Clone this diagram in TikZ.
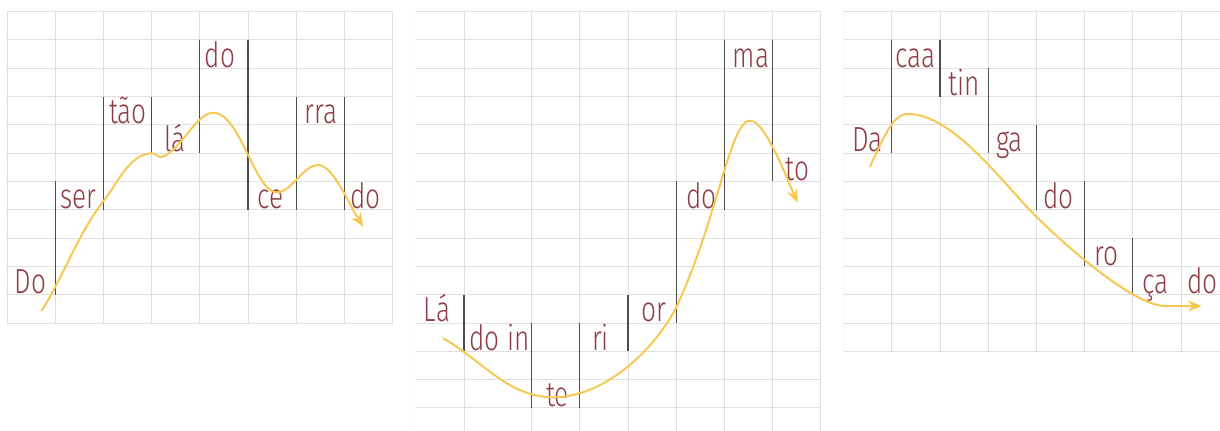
\documentclass[tikz,border=0pt]{standalone}
\usepackage{fontspec}
\usepackage{tikz}
\usetikzlibrary{arrows.meta}
\usepackage{xcolor}
\newfontfamily\sylfont[FakeStretch=0.75]{Fira Sans Light}
\definecolor{sylred}{RGB}{142,60,70}
\definecolor{melodyyellow}{RGB}{247,200,80}

\begin{document}
\begin{tikzpicture}[x=0.025cm,y=0.025cm,>={Stealth[length=3.4mm,width=2.8mm]},line cap=round,
  gridline/.style={gray!25,line width=0.6pt},
  divider/.style={black!70,line width=0.9pt,line cap=butt},
  melody/.style={melodyyellow,line width=1.4pt,->},
  syl/.style={anchor=base west,inner sep=0pt,text=sylred,font=\sylfont\fontsize{24.8pt}{26pt}\selectfont}]
\useasboundingbox (0,0) rectangle (1220,431);
% Do ser-tao la do ce-rra-do
\begin{scope}[shift={(0.175cm,10.4825cm)},x=1.205cm,y=0.7075cm]
\draw[gridline] (0,-11) grid[step=1] (8,0);
\draw[divider] (1,-6) -- (1,-10);
\draw[divider] (2,-3) -- (2,-7);
\draw[divider] (3,-3) -- (3,-5);
\draw[divider] (4,-1) -- (4,-5);
\draw[divider] (5,-1) -- (5,-7);
\draw[divider] (6,-3) -- (6,-7);
\draw[divider] (7,-3) -- (7,-7);
\node[syl] (a1) at (0.16,-9.96) {Do};
\node[syl] (a2) at (1.10,-6.96) {ser};
\node[syl] (a3) at (2.11,-3.96) {tão};
\node[syl] (a4) at (3.26,-4.96) {lá};
\node[syl] (a5) at (4.10,-1.96) {do};
\node[syl] (a6) at (5.20,-6.96) {ce};
\node[syl] (a7) at (6.17,-3.96) {rra};
\node[syl] (a8) at (7.12,-6.96) {do};
\end{scope}
\draw[melody] (41.7,120.3) .. controls (64.2,156.3) and (78.2,197.6) .. (104.3,231)
  .. controls (118,248.6) and (130,277.7) .. (152.3,277.7)
  .. controls (156,277.7) and (158.1,273) .. (161.7,274)
  .. controls (179.7,279) and (196.3,318.3) .. (213.3,318.3)
  .. controls (240,318.3) and (255,238.7) .. (276.7,238.7)
  .. controls (292,238.7) and (303,266) .. (318.3,266)
  .. controls (333,266) and (350,225) .. (363.3,204.3);
% La do in-te-ri-or do ma-to
\begin{scope}[shift={(10.3925cm,10.4825cm)},x=1.205cm,y=0.7075cm]
\begin{scope}
\clip (0,-14.82) rectangle (8.4,0);
\draw[gridline] (0,-15) grid[xstep=10,ystep=1] (8.4,0);
\draw[gridline] (1,-15) -- (1,0);
\draw[gridline,shift={(2.4,0)}] (0,-15) grid[step=1] (6,0);
\end{scope}
\draw[divider] (1,-10) -- (1,-12);
\draw[divider] (2.4,-11) -- (2.4,-14);
\draw[divider] (3.4,-11) -- (3.4,-14);
\draw[divider] (4.4,-10) -- (4.4,-12);
\draw[divider] (5.4,-6) -- (5.4,-11);
\draw[divider] (6.4,-1) -- (6.4,-7);
\draw[divider] (7.4,-1) -- (7.4,-6);
\node[syl] (b1) at (0.16,-10.96) {Lá};
\node[syl] (b2) at (1.11,-11.96) {do in};
\node[syl] (b3) at (2.70,-13.96) {te};
\node[syl] (b4) at (3.65,-11.96) {ri};
\node[syl] (b5) at (4.67,-10.96) {or};
\node[syl] (b6) at (5.61,-6.96) {do};
\node[syl] (b7) at (6.57,-1.96) {ma};
\node[syl] (b8) at (7.67,-5.96) {to};
\end{scope}
\draw[melody] (443.3,92.7) .. controls (482.3,70.2) and (508.3,33.7) .. (553.3,33.7)
  .. controls (603.3,33.7) and (652.5,78.9) .. (676,123)
  .. controls (718.3,213.6) and (730,310.3) .. (750,310.3)
  .. controls (765,310.3) and (785.5,255.7) .. (797.7,228.3);
% Da caa-tin-ga do ro-ca-do
\begin{scope}[shift={(21.0825cm,10.4825cm)},x=1.205cm,y=0.7075cm]
\begin{scope}
\clip (0,-12) rectangle (7.815,0);
\draw[gridline] (0,-12) grid[step=1] (8,0);
\end{scope}
\draw[divider] (1,-1) -- (1,-5);
\draw[divider] (2,-1) -- (2,-3);
\draw[divider] (3,-2) -- (3,-5);
\draw[divider] (4,-4) -- (4,-7);
\draw[divider] (5,-6) -- (5,-9);
\draw[divider] (6,-8) -- (6,-10);
\node[syl] (c1) at (0.18,-4.96) {Da};
\node[syl] (c2) at (1.08,-1.96) {caa};
\node[syl] (c3) at (2.18,-2.96) {tin};
\node[syl] (c4) at (3.16,-4.96) {ga};
\node[syl] (c5) at (4.14,-6.96) {do};
\node[syl] (c6) at (5.19,-8.96) {ro};
\node[syl] (c7) at (6.19,-9.96) {ça};
\node[syl] (c8) at (7.13,-9.96) {do};
\end{scope}
\draw[melody] (870,264.3) .. controls (884.8,296) and (893,317) .. (908.3,317)
  .. controls (953.3,317) and (1004.3,246) .. (1036.3,214.3)
  .. controls (1068.3,182.6) and (1135,125) .. (1165,125) -- (1201.7,125);
\end{tikzpicture}
\end{document}
